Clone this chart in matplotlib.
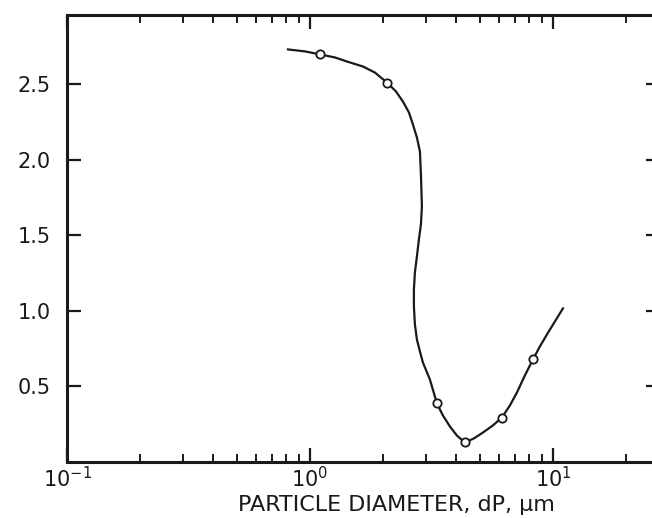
import numpy as np
import matplotlib.pyplot as plt
from matplotlib.ticker import LogLocator, NullFormatter

# hand drawn curve
curve_d = [0.812, 0.954, 1.099, 1.267, 1.420, 1.652, 1.851, 2.074, 2.259, 2.414,
           2.555, 2.654, 2.756, 2.836, 2.863, 2.890, 2.863, 2.809, 2.756, 2.704,
           2.679, 2.679, 2.704, 2.756, 2.836, 2.917, 3.118, 3.332, 3.527, 3.769,
           4.027, 4.344, 4.731, 5.152, 5.663, 6.169, 6.653, 7.111, 7.669, 8.275,
           8.842, 9.447, 10.19, 11.00]
curve_v = [2.732, 2.719, 2.699, 2.679, 2.652, 2.619, 2.579, 2.513, 2.454, 2.387,
           2.315, 2.235, 2.149, 2.056, 1.904, 1.692, 1.573, 1.474, 1.361, 1.255,
           1.142, 1.030, 0.911, 0.811, 0.732, 0.659, 0.546, 0.387, 0.308, 0.235,
           0.175, 0.129, 0.156, 0.195, 0.242, 0.295, 0.374, 0.460, 0.573, 0.679,
           0.765, 0.844, 0.930, 1.017]

# measured points (open circles)
pts_d = [1.10, 2.07, 3.33, 4.34, 6.17, 8.28]
pts_v = [2.70, 2.51, 0.39, 0.13, 0.29, 0.68]

y_ticks = [0.5, 1.0, 1.5, 2.0, 2.5]
xlabel = "PARTICLE DIAMETER, dP, µm"

plt.rcParams['font.family'] = ['DejaVu Sans']
plt.rcParams['mathtext.default'] = 'regular'
ink = '#1a1a1a'

fig = plt.figure(figsize=(6.52, 5.18), dpi=100)
ax = fig.add_axes([67 / 652, 56 / 518, 593 / 652, 447 / 518])

ax.plot(curve_d, curve_v, '-', color=ink, lw=1.6, zorder=2)
ax.plot(pts_d, pts_v, 'o', ms=6, mfc='white', mec=ink, mew=1.3, zorder=3)

ax.set_xscale('log')
ax.set_xlim(0.1, 27.6)
ax.set_ylim(0, 2.96)
ax.set_yticks(y_ticks)
ax.set_yticklabels([f"{v:.1f}" for v in y_ticks])
ax.xaxis.set_major_locator(LogLocator(base=10, numticks=10))
ax.xaxis.set_minor_locator(LogLocator(base=10, subs=np.arange(2, 10), numticks=10))
ax.xaxis.set_minor_formatter(NullFormatter())

for s in ax.spines.values():
    s.set_linewidth(2.2)
    s.set_color(ink)

ax.tick_params(axis='both', which='major', direction='in', length=10, width=1.6,
               colors=ink, labelsize=15, top=True, right=True)
ax.tick_params(axis='x', which='minor', direction='in', length=6, width=1.4,
               colors=ink, top=True)
ax.tick_params(axis='y', which='major', pad=12)
ax.tick_params(axis='x', which='major', pad=3)

ax.set_xlabel(xlabel, fontsize=16, color=ink, labelpad=0)
ax.xaxis.set_label_coords(0.555, -0.074)

fig.savefig('out.png', dpi=100, facecolor='white')
